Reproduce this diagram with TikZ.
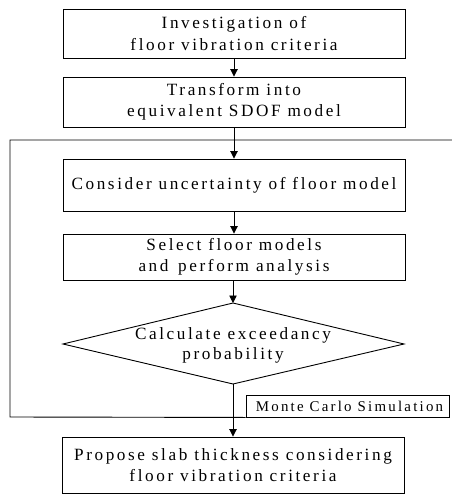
\documentclass[tikz,border=0pt]{standalone}
\usepackage{fontspec}
\setmainfont{Liberation Serif}[LetterSpace=15]
\usetikzlibrary{arrows.meta}
\begin{document}
\begin{tikzpicture}[x=1pt,y=-1pt,
  line width=0.9pt,
  box/.style={draw,minimum width=342pt,inner sep=0pt,align=center,
    font=\fontsize{17.2}{21.5}\selectfont},
  lbl/.style={inner sep=0pt,align=center,font=\fontsize{17.2}{20}\selectfont},
  mcbox/.style={draw,minimum width=203pt,minimum height=22pt,inner sep=0pt,
    font=\fontsize{14.9}{16}\selectfont},
  arr/.style={-{Triangle[length=7.5pt,width=7.5pt]}}]
\useasboundingbox (0,0) rectangle (452,495);

\node[box,minimum height=49pt] (b1) at (234,33.5) {Investigation of\\floor vibration criteria};
\node[box,minimum height=50pt] (b2) at (234,102) {Transform into\\equivalent SDOF model};
\node[box,minimum height=52pt] (b3) at (234,185) {Consider uncertainty of floor model};
\node[box,minimum height=46pt] (b4) at (234,257) {Select floor models\\and\, perform analysis};
\node[lbl] (d) at (233,345) {Calculate exceedancy\\probability};
\coordinate (dt) at (233,303);
\coordinate (db) at (233,384);
\coordinate (dl) at (63,344);
\coordinate (dr) at (404,344);
\draw (dt) -- (dr) -- (db) -- (dl) -- cycle;
\node[box,minimum height=56pt] (b5) at (233,465) {Propose slab thickness considering\\floor vibration criteria};
\node[mcbox] (mc) at (347.5,406) {\hspace{4pt}Monte Carlo Simulation};

\coordinate (lbl) at (10,417);
\coordinate (ltl) at (10,140);
\coordinate (ltr) at (452,140);
\draw (mc.south west) -- (lbl) -- (ltl) -- (ltr);

\draw[arr] (b1) -- (b2);
\draw[arr] (b2) -- (b3);
\draw[arr] (b3) -- (b4);
\draw[arr] (b4.south -| dt) -- (dt);
\draw[arr] (db) -- (b5.north -| db);
\end{tikzpicture}
\end{document}
